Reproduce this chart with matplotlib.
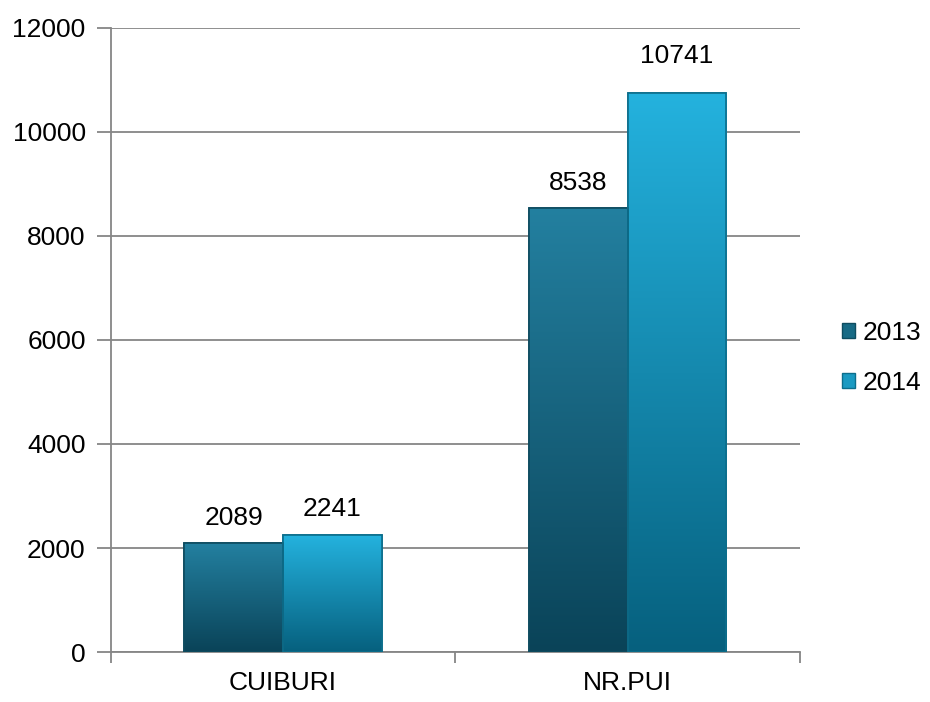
import matplotlib
matplotlib.use("Agg")
import matplotlib.pyplot as plt
import numpy as np
from matplotlib.colors import LinearSegmentedColormap
from matplotlib.patches import Rectangle

categories = ["CUIBURI", "NR.PUI"]
series_names = ["2013", "2014"]
values_2013 = [2089, 8538]
values_2014 = [2241, 10741]
yticks = [0, 2000, 4000, 6000, 8000, 10000, 12000]

# label gap above bar tops (pixels), per series, per category
label_gaps = {"2013": [18, 18], "2014": [19, 30]}

plt.rcParams['font.family'] = ['Liberation Sans', 'DejaVu Sans']
FS = 19

fig = plt.figure(figsize=(9.3, 7.02), dpi=100)
ax = fig.add_axes([0.119, 0.0712, 0.741, 0.889])

width = 0.287
x = np.arange(len(categories))
grads = {
    "2013": LinearSegmentedColormap.from_list("g13", ["#0a4358", "#2380a0"]),
    "2014": LinearSegmentedColormap.from_list("g14", ["#06607e", "#24b2de"]),
}
edges = {"2013": "#0e4c60", "2014": "#0c6e8c"}
legend_faces = {"2013": "#176a85", "2014": "#1a9ac2"}

for si, (name, vals) in enumerate(zip(series_names, [values_2013, values_2014])):
    offs = (si - 0.5) * width
    bars = ax.bar(x + offs, vals, width, color=legend_faces[name], edgecolor=edges[name],
                  linewidth=1.2, zorder=3, label=name)
    for ci, (b, v) in enumerate(zip(bars, vals)):
        x0 = b.get_x()
        grad = np.linspace(0, 1, 256).reshape(-1, 1)
        im = ax.imshow(grad, cmap=grads[name], origin="lower", aspect="auto",
                       extent=[x0, x0 + width, 0, v], zorder=3.5)
        im.set_clip_path(b)
        ax.add_patch(Rectangle((x0, 0), width, v, fill=False, edgecolor=edges[name],
                               linewidth=1.2, zorder=4))
        ax.annotate(f"{v}", xy=(x0 + width / 2, v), xytext=(0, label_gaps[name][ci] * 0.72),
                    textcoords="offset points", ha="center", va="baseline",
                    fontsize=FS, color="black", zorder=5)

ax.set_xlim(-0.5, 1.5)
ax.set_ylim(0, 12000)
ax.set_yticks(yticks)
ax.set_yticklabels([str(t) for t in yticks], fontsize=FS)
ax.set_xticks(x)
ax.set_xticklabels(categories, fontsize=FS)
ax.set_xticks([-0.5, 0.5, 1.5], minor=True)
ax.tick_params(axis="x", which="major", length=0, pad=14)
ax.tick_params(axis="x", which="minor", length=8, width=1.3, color="#868686")
ax.tick_params(axis="y", length=10, width=1.3, color="#868686", pad=8)
ax.grid(axis="y", color="#868686", linewidth=1.3, zorder=0)
ax.set_axisbelow(True)
for s in ["top", "right"]:
    ax.spines[s].set_visible(False)
for s in ["left", "bottom"]:
    ax.spines[s].set_color("#868686")
    ax.spines[s].set_linewidth(1.3)

handles = [Rectangle((0, 0), 1, 1, facecolor=legend_faces[n], edgecolor=edges[n]) for n in series_names]
leg = fig.legend(handles, series_names, loc="center left", bbox_to_anchor=(0.905, 0.49),
                 frameon=False, fontsize=FS, handlelength=0.5, handleheight=0.5,
                 handletextpad=0.3, labelspacing=1.0, borderpad=0, borderaxespad=0)

fig.savefig("out.png", dpi=100)
